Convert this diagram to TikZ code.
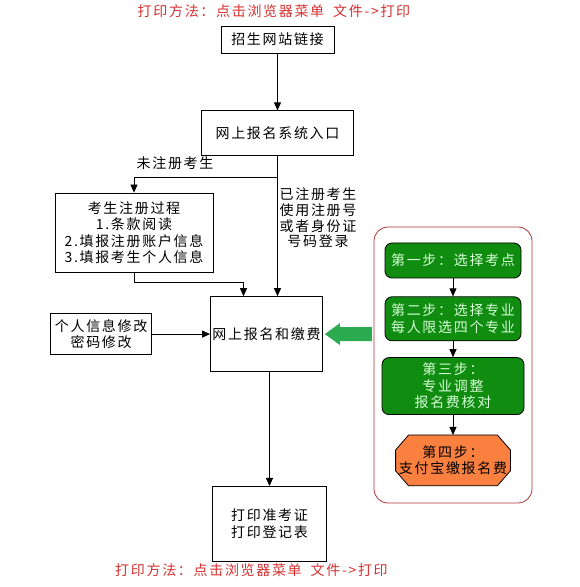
\documentclass[tikz,border=0pt]{standalone}
\usepackage{fontspec}
\setmainfont[LetterSpace=12]{Noto Sans CJK SC}
\usetikzlibrary{arrows.meta,positioning,backgrounds}
\definecolor{notered}{RGB}{214,48,48}
\definecolor{panelred}{RGB}{176,52,52}
\definecolor{stepgreen}{RGB}{16,140,16}
\definecolor{steptext}{RGB}{214,255,214}
\definecolor{steporange}{RGB}{250,128,64}
\definecolor{hintgreen}{RGB}{44,170,80}
\tikzset{
    flowbase/.style={
        rectangle,
        draw=black,
        line width=0.8pt,
        align=center,
        inner sep=2pt,
        font=\fontsize{14}{16.5}\selectfont
    },
    plainbox/.style={flowbase, fill=white},
    stepbox/.style={flowbase, rounded corners=7pt, fill=stepgreen, text=steptext, minimum width=136pt},
    alipaybox/.style={flowbase, draw=none, inner sep=0pt, minimum width=114pt, minimum height=50pt},
    octagon/.style={fill=steporange, draw=black, line width=0.8pt},
    panel/.style={rectangle, rounded corners=14pt, draw=panelred, line width=0.8pt, minimum width=158pt, minimum height=276pt},
    notetext/.style={text=notered, inner sep=0pt, font=\fontsize{14}{16}\selectfont},
    edgelabel/.style={align=center, inner sep=0pt, font=\fontsize{14}{15.7}\selectfont},
    line/.style={-{Triangle[length=8pt,width=7pt]}, line width=0.8pt, draw=black},
}

\begin{document}
\begin{tikzpicture}[x=1pt, y=1pt]
    \useasboundingbox (0,0) rectangle (580,587);

    % Print hints
    \node[notetext] (tophint) at (274,576) {打印方法：点击浏览器菜单\hspace{9pt}文件->打印};
    \node[notetext] (bottomhint) at (251.5,17) {打印方法：点击浏览器菜单\hspace{9pt}文件->打印};

    % Main flow
    \node[plainbox, minimum width=113pt, minimum height=27pt] (site) at (277.5,547.5) {招生网站链接};
    \node[plainbox, below=57pt of site, minimum width=152pt, minimum height=45pt] (entry) {网上报名系统入口};
    \node[plainbox, minimum width=158pt, minimum height=79pt] (reg) at (134,354.5) {考生注册过程\\1.条款阅读\\2.填报注册账户信息\\3.填报考生个人信息};
    \node[plainbox, below=140pt of entry, xshift=-11pt, minimum width=112pt, minimum height=75pt] (pay) {网上报名和缴费};
    \node[plainbox, left=58pt of pay, minimum width=101pt, minimum height=41pt] (modify) {个人信息修改\\密码修改};
    \node[plainbox, below=114pt of pay, xshift=3pt, minimum width=114pt, minimum height=75pt] (print) {打印准考证\\打印登记表};

    % Branch labels
    \node[edgelabel] (unreg) at (175,424) {未注册考生};
    \node[edgelabel] (registered) at (318,369) {已注册考生\\使用注册号\\或者身份证\\号码登录};

    % Payment steps
    \node[panel] (steps) at (453,222) {};
    \node[stepbox, below=16pt of steps.north, minimum height=35pt] (s1) {第一步：选择考点};
    \node[stepbox, below=18pt of s1, minimum height=44pt] (s2) {第二步：选择专业\\每人限选四个专业};
    \node[stepbox, below=16pt of s2, minimum width=142pt, minimum height=57pt] (s3) {第三步：\\专业调整\\报名费核对};
    \node[alipaybox, below=20pt of s3] (s4) {第四步：\\支付宝缴报名费};
    \begin{scope}[on background layer]
        \path[octagon] ([xshift=13pt]s4.north west) -- ([xshift=-13pt]s4.north east)
            -- ([yshift=-15pt]s4.north east) -- ([yshift=15pt]s4.south east)
            -- ([xshift=-13pt]s4.south east) -- ([xshift=13pt]s4.south west)
            -- ([yshift=15pt]s4.south west) -- ([yshift=-15pt]s4.north west) -- cycle;
    \end{scope}

    % Connectors
    \coordinate (split) at ([yshift=-21pt]entry.south);
    \draw[line] (site.south) -- (entry.north);
    \draw[line] (entry.south) -- (entry.south |- pay.north);
    \draw[line] (split) -| (reg.north);
    \draw[line] (reg.south) -- ++(0,-10) -| ([xshift=-23pt]pay.north);
    \draw[line] (modify) -- (pay);
    \draw[line] (pay.south -| print.north) -- (print.north);
    \draw[line] (s1) -- (s2);
    \draw[line] (s2) -- (s3);
    \draw[line] (s3) -- (s4);

    % Big green pointer
    \fill[hintgreen] ([xshift=2pt]pay.east) -- ++(15,11) -- ++(0,-4) -- ++(32,0) -- ++(0,-14) -- ++(-32,0) -- ++(0,-4) -- cycle;
\end{tikzpicture}
\end{document}
